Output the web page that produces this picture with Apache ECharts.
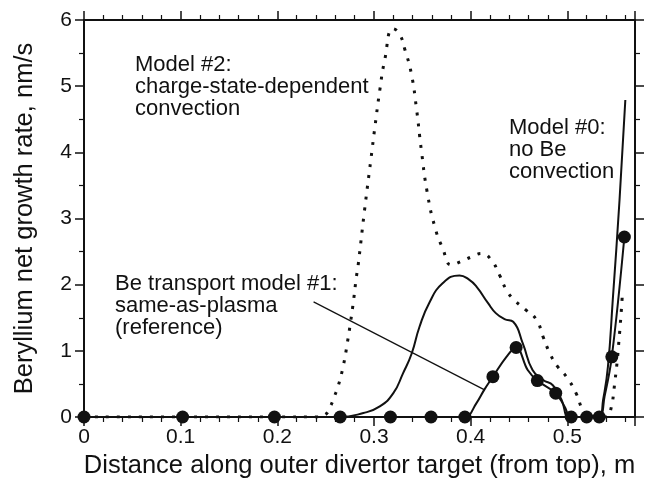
<!DOCTYPE html>
<html>
<head>
<meta charset="utf-8">
<title>Beryllium net growth rate</title>
<script src="https://cdn.jsdelivr.net/npm/echarts@6.0.0/dist/echarts.min.js"></script>
<style>
  html, body { margin: 0; padding: 0; background: #fff; }
  #chart { width: 656px; height: 479px; }
</style>
</head>
<body>
<div id="chart"></div>
<script>
// Model #0: no Be convection (thin solid curve)
var model0X = [0, 0.1, 0.2, 0.264, 0.289, 0.306, 0.320, 0.330, 0.339, 0.347, 0.357, 0.371, 0.3885, 0.398, 0.406, 0.418, 0.426, 0.435, 0.444, 0.454, 0.464, 0.475, 0.485, 0.494, 0.502, 0.515, 0.533, 0.537, 0.542, 0.547, 0.554, 0.560];
var model0Y = [0, 0, 0, 0, 0.06, 0.16, 0.36, 0.66, 0.96, 1.36, 1.72, 2.02, 2.14, 2.08, 1.97, 1.72, 1.57, 1.48, 1.44, 1.11, 0.71, 0.56, 0.48, 0.26, 0, 0, 0, 0.26, 0.76, 1.77, 3.28, 4.79];

// Model #1: same-as-plasma (reference) - curve and computed points
var model1X = [0, 0.102, 0.197, 0.265, 0.317, 0.359, 0.394, 0.406, 0.414, 0.423, 0.437, 0.447, 0.459, 0.469, 0.488, 0.497, 0.504, 0.520, 0.533, 0.5385, 0.546, 0.559];
var model1Y = [0, 0, 0, 0, 0, 0, 0, 0.21, 0.41, 0.61, 0.91, 1.05, 0.71, 0.55, 0.36, 0.16, 0, 0, 0, 0.31, 0.91, 2.72];
var dotsX = [0, 0.102, 0.197, 0.265, 0.317, 0.359, 0.394, 0.423, 0.447, 0.469, 0.488, 0.504, 0.520, 0.533, 0.546, 0.559];
var dotsY = [0, 0, 0, 0, 0, 0, 0, 0.61, 1.05, 0.55, 0.36, 0, 0, 0, 0.91, 2.72];

// Model #2: charge-state-dependent convection (dotted curve)
var model2X = [0, 0.1, 0.2, 0.240, 0.249, 0.2548, 0.259, 0.263, 0.2686, 0.2724, 0.2758, 0.279, 0.2817, 0.2834, 0.290, 0.297, 0.301, 0.306, 0.311, 0.3196, 0.326, 0.332, 0.3386, 0.3437, 0.349, 0.355, 0.363, 0.371, 0.380, 0.390, 0.401, 0.411, 0.421, 0.430, 0.437, 0.445, 0.457, 0.468, 0.475, 0.482, 0.490, 0.499, 0.509, 0.516, 0.522, 0.530, 0.540, 0.544, 0.549, 0.554, 0.557];
var model2Y = [0, 0, 0, 0, 0.03, 0.16, 0.31, 0.47, 0.80, 1.12, 1.44, 1.78, 2.11, 2.27, 3.10, 3.92, 4.39, 4.94, 5.39, 5.87, 5.80, 5.55, 5.19, 4.69, 4.03, 3.40, 2.87, 2.55, 2.30, 2.35, 2.42, 2.47, 2.38, 2.14, 1.92, 1.77, 1.62, 1.47, 1.21, 0.96, 0.76, 0.61, 0.36, 0.10, 0, 0, 0, 0.06, 0.51, 1.26, 1.87];

// leader line from the model #1 label to its curve
var leaderX = [0.2375, 0.4144];
var leaderY = [1.74, 0.41];

var xMin = 0, xMax = 0.57, xStep = 0.1;
var yMin = 0, yMax = 6, yStep = 1;

var FONT = "'Liberation Sans', Arial, Helvetica, sans-serif";
var INK = '#111';

function pair(xs, ys) {
    return xs.map(function (x, i) { return [x, ys[i]]; });
}

var chart = echarts.init(document.getElementById('chart'));

var axisLineStyle = { color: INK, width: 2 };
var tickStyle = { color: INK, width: 1.5 };

function xAxisOf(pos, withLabels) {
    return {
        type: 'value',
        position: pos,
        min: xMin, max: xMax, interval: xStep,
        name: withLabels ? 'Distance along outer divertor target (from top), m' : '',
        nameLocation: 'middle',
        nameGap: 36,
        nameTextStyle: { fontFamily: FONT, fontSize: 25.5, color: INK },
        axisLine: { show: true, onZero: false, lineStyle: axisLineStyle },
        axisTick: { show: true, inside: false, length: 9, lineStyle: tickStyle },
        minorTick: { show: true, splitNumber: 5, length: 5, lineStyle: { color: INK, width: 1.2 } },
        axisLabel: {
            show: withLabels, fontFamily: FONT, fontSize: 21, color: INK, margin: 10,
            showMaxLabel: false,
            formatter: function (v) { return v === 0 ? '0' : v.toFixed(1); }
        },
        splitLine: { show: false }
    };
}

function yAxisOf(pos, withLabels) {
    return {
        type: 'value',
        position: pos,
        min: yMin, max: yMax, interval: yStep,
        name: withLabels ? 'Beryllium net growth rate, nm/s' : '',
        nameLocation: 'middle',
        nameGap: 46,
        nameTextStyle: { fontFamily: FONT, fontSize: 25.5, color: INK },
        axisLine: { show: true, onZero: false, lineStyle: axisLineStyle },
        axisTick: { show: true, inside: false, length: 9, lineStyle: tickStyle },
        minorTick: { show: true, splitNumber: 2, length: 5, lineStyle: { color: INK, width: 1.2 } },
        axisLabel: { show: withLabels, fontFamily: FONT, fontSize: 21, color: INK, margin: 12 },
        splitLine: { show: false }
    };
}

var option = {
    animation: false,
    backgroundColor: '#fff',
    grid: { left: 84, right: 21, top: 20, bottom: 62, containLabel: false, outerBoundsMode: 'none' },
    xAxis: [xAxisOf('bottom', true), xAxisOf('top', false)],
    yAxis: [yAxisOf('left', true), yAxisOf('right', false)],
    series: [
        {
            name: 'Model #2',
            type: 'line',
            data: pair(model2X, model2Y),
            smooth: 0.5,
            showSymbol: false,
            lineStyle: { color: INK, width: 3, type: [3, 8], cap: 'butt' },
            z: 2
        },
        {
            name: 'Model #0',
            type: 'line',
            data: pair(model0X, model0Y),
            smooth: 0.5,
            showSymbol: false,
            lineStyle: { color: INK, width: 2 },
            z: 3
        },
        {
            name: 'Model #1',
            type: 'line',
            data: pair(model1X, model1Y),
            smooth: 0.4,
            showSymbol: false,
            lineStyle: { color: INK, width: 2 },
            z: 3
        },
        {
            name: 'Model #1 points',
            type: 'scatter',
            data: pair(dotsX, dotsY),
            symbol: 'circle',
            symbolSize: 13,
            itemStyle: { color: INK, opacity: 1 },
            z: 5
        },
        {
            name: 'leader',
            type: 'line',
            data: pair(leaderX, leaderY),
            showSymbol: false,
            lineStyle: { color: INK, width: 1.2 },
            z: 4
        }
    ],
    graphic: [
        {
            type: 'text', x: 135, y: 54,
            style: { text: 'Model #2:\ncharge-state-dependent\nconvection', fontFamily: FONT, fontSize: 22, lineHeight: 22, fill: INK, verticalAlign: 'top' }
        },
        {
            type: 'text', x: 509, y: 117,
            style: { text: 'Model #0:\nno Be\nconvection', fontFamily: FONT, fontSize: 22, lineHeight: 22, fill: INK, verticalAlign: 'top' }
        },
        {
            type: 'text', x: 115, y: 273,
            style: { text: 'Be transport model #1:\nsame-as-plasma\n(reference)', fontFamily: FONT, fontSize: 22, lineHeight: 22, fill: INK, verticalAlign: 'top' }
        }
    ]
};

chart.setOption(option);
</script>
</body>
</html>
